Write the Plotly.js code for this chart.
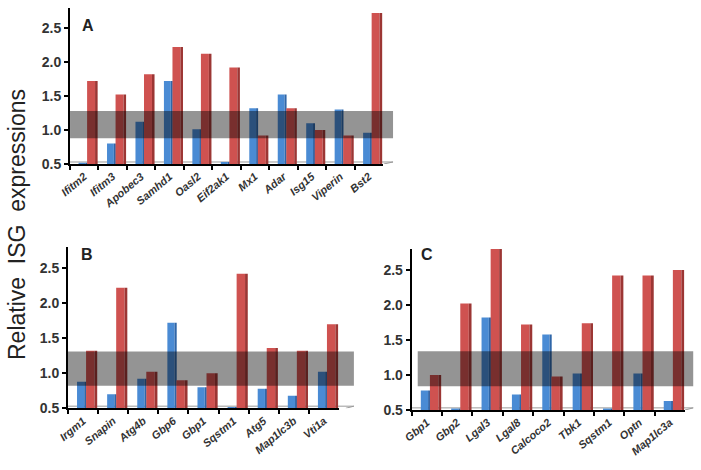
<!DOCTYPE html>
<html>
<head>
<meta charset="utf-8">
<script src="https://cdn.plot.ly/plotly-3.0.1.min.js"></script>
<style>html,body{margin:0;padding:0;background:#fff;}#chart{width:701px;height:470px;}</style>
</head>
<body>
<div id="chart"></div>
<script>
// Panel A
const genesA = ["Ifitm2","Ifitm3","Apobec3","Samhd1","Oasl2","Eif2ak1","Mx1","Adar","Isg15","Viperin","Bst2"];
const blueA  = [0.52, 0.80, 1.12, 1.72, 1.01, 0.53, 1.32, 1.52, 1.10, 1.30, 0.96];
const redA   = [1.72, 1.52, 1.82, 2.22, 2.12, 1.92, 0.92, 1.32, 1.00, 0.92, 2.72];
const bandA  = [0.88, 1.28];
// Panel B
const genesB = ["Irgm1","Snapin","Atg4b","Gbp6","Gbp1","Sqstm1","Atg5","Map1lc3b","Vti1a"];
const blueB  = [0.88, 0.70, 0.92, 1.72, 0.80, 0.52, 0.78, 0.68, 1.02];
const redB   = [1.32, 2.22, 1.02, 0.90, 1.00, 2.42, 1.36, 1.32, 1.70];
const bandB  = [0.82, 1.31];
// Panel C
const genesC = ["Gbp1","Gbp2","Lgal3","Lgal8","Calcoco2","Tbk1","Sqstm1","Optn","Map1lc3a"];
const blueC  = [0.78, 0.52, 1.82, 0.72, 1.58, 1.02, 0.52, 1.02, 0.63];
const redC   = [1.00, 2.02, 2.84, 1.72, 0.98, 1.74, 2.42, 2.42, 2.50];
const bandC  = [0.84, 1.34];
const yTicks = [0.5, 1.0, 1.5, 2.0, 2.5];

const BLUE = "#4a8bd4", BLUE_SIDE = "#2f66a8";
const RED = "#cf5250", RED_SIDE = "#9c3634";

function barTraces(cats, blue, red, xa, ya) {
  const common = {type: "bar", x: cats, xaxis: xa, yaxis: ya, hoverinfo: "skip", showlegend: false};
  return [
    Object.assign({}, common, {y: blue, offset: -0.20, width: 0.24, marker: {color: BLUE, line: {width: 0}}}),
    Object.assign({}, common, {y: blue, offset: 0.04, width: 0.07, marker: {color: BLUE_SIDE, line: {width: 0}}}),
    Object.assign({}, common, {y: red, offset: 0.10, width: 0.28, marker: {color: RED, line: {width: 0}}}),
    Object.assign({}, common, {y: red, offset: 0.38, width: 0.09, marker: {color: RED_SIDE, line: {width: 0}}})
  ];
}

const data = [].concat(
  barTraces(genesA, blueA, redA, "x", "y"),
  barTraces(genesB, blueB, redB, "x2", "y2"),
  barTraces(genesC, blueC, redC, "x3", "y3")
);

function xAxis(domain, anchor, n) {
  return {
    domain: domain, anchor: anchor, type: "category", range: [-0.5, n - 0.5],
    showline: true, linecolor: "#000", linewidth: 2, mirror: false,
    ticks: "outside", tickson: "boundaries", ticklen: 4, tickwidth: 2, tickcolor: "#000",
    tickangle: -40, showgrid: false, zeroline: false,
    tickfont: {family: "Liberation Sans, Arial", size: 11, color: "#333", weight: "bold", style: "italic"}
  };
}
function yAxis(domain, anchor) {
  return {
    domain: domain, anchor: anchor, range: [0.5, 2.8],
    tickvals: yTicks, ticktext: yTicks.map(v => v.toFixed(1)),
    showline: true, linecolor: "#000", linewidth: 2,
    ticks: "outside", ticklen: 4, tickwidth: 2, tickcolor: "#000",
    showgrid: false, zeroline: false,
    tickfont: {family: "Liberation Sans, Arial", size: 14, color: "#333", weight: "bold"}
  };
}

function bandShapes(xref, yref, band, x0, x1) {
  return [
    {type: "rect", xref: xref + " domain", yref: yref, x0: x0, x1: x1, y0: band[0], y1: band[1],
     fillcolor: "rgba(0,0,0,0.42)", line: {width: 0}, layer: "above"},
    {type: "line", xref: xref + " domain", yref: yref, x0: 0, x1: x1, y0: 0.53, y1: 0.53,
     line: {color: "#9a9a9a", width: 1}, layer: "below"},
    {type: "line", xref: xref + " domain", yref: yref, x0: x1, x1: x1 - 0.03, y0: 0.53, y1: 0.5,
     line: {color: "#9a9a9a", width: 1}, layer: "below"}
  ];
}

const layout = {
  width: 701, height: 470,
  margin: {l: 0, r: 0, t: 0, b: 0},
  paper_bgcolor: "#fff", plot_bgcolor: "rgba(0,0,0,0)",
  barmode: "overlay",
  showlegend: false,
  xaxis: xAxis([0.0999, 0.5464], "y", genesA.length),
  yaxis: yAxis([0.651, 0.984], "x"),
  xaxis2: xAxis([0.097, 0.4836], "y2", genesB.length),
  yaxis2: yAxis([0.1313, 0.4745], "x2"),
  xaxis3: xAxis([0.5873, 0.9772], "y3", genesC.length),
  yaxis3: yAxis([0.1277, 0.4702], "x3"),
  shapes: [].concat(
    bandShapes("x", "y", bandA, 0, 1.032),
    bandShapes("x2", "y2", bandB, 0, 1.055),
    bandShapes("x3", "y3", bandC, 0.022, 1.03)
  ),
  annotations: [
    {text: "<b>A</b>", xref: "paper", yref: "paper", x: 80/701, y: 1 - 15/470, showarrow: false,
     font: {family: "Liberation Sans, Arial", size: 16, color: "#222"}},
    {text: "<b>B</b>", xref: "paper", yref: "paper", x: 79/701, y: 1 - 255/470, showarrow: false,
     font: {family: "Liberation Sans, Arial", size: 16, color: "#222"}},
    {text: "<b>C</b>", xref: "paper", yref: "paper", x: 427/701, y: 1 - 254/470, showarrow: false,
     font: {family: "Liberation Sans, Arial", size: 16, color: "#222"}},
    {text: "Relative  ISG  expressions", xref: "paper", yref: "paper", x: 2/701, xanchor: "left",
     y: 1 - 225/470, showarrow: false, textangle: -90,
     font: {family: "Liberation Sans, Arial", size: 23, color: "#222"}}
  ]
};

Plotly.newPlot("chart", data, layout, {staticPlot: true, displayModeBar: false});
</script>
</body>
</html>
